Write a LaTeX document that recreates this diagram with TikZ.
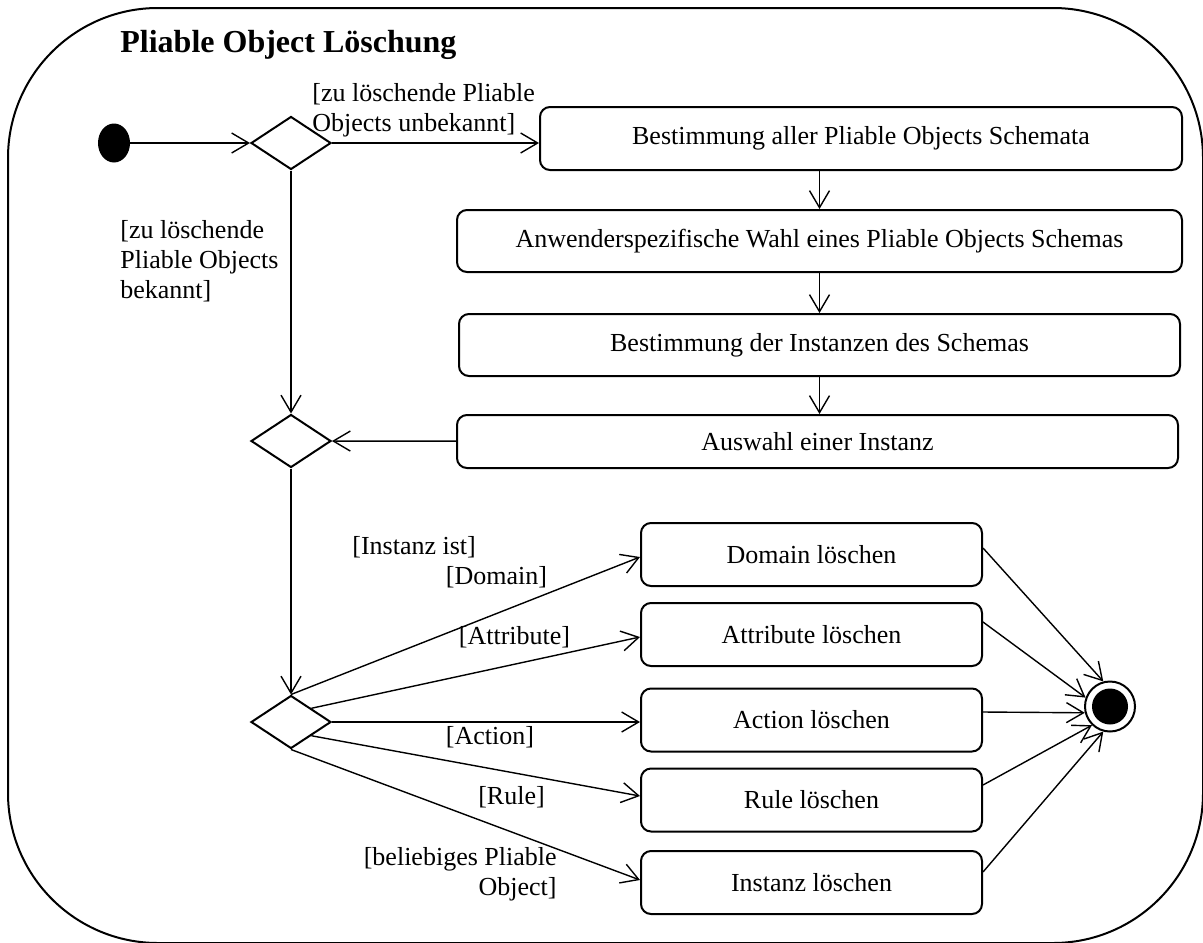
\documentclass[tikz,border=0pt]{standalone}
\usepackage{fontspec}
\setmainfont{Liberation Serif}
\usetikzlibrary{arrows.meta,shapes.geometric,calc}
\tikzset{
  >={Straight Barb[length=8.5pt,width=10pt]},
  flow/.style={->,line width=0.7pt},
  act/.style={draw,line width=1pt,rounded corners=5pt,minimum height=31.5pt,
    inner sep=2pt,align=center,font=\fontsize{13}{15}\selectfont},
  branch/.style={diamond,draw,line width=1pt,aspect=1.5,minimum width=40pt,
    minimum height=26.5pt,inner sep=0pt},
  guard/.style={inner sep=0pt,font=\fontsize{13}{15}\selectfont},
}

\begin{document}
\begin{tikzpicture}[x=0.5pt,y=-0.5pt]
  \useasboundingbox (0,0) rectangle (1203,942);
  % activity frame
  \draw[line width=1pt,rounded corners=75pt] (8,8) rectangle (1203,943);
  \node[anchor=west,inner sep=0pt,font=\fontsize{16}{18}\selectfont\bfseries] (title) at (120,45) {Pliable Object Löschung};

  % initial node and branches
  \node[ellipse,fill,minimum width=16pt,minimum height=19.5pt,inner sep=0pt] (start) at (114,143) {};
  \node[branch] (d1) at (291,143) {};
  \node[branch] (d2) at (291,441) {};
  \node[branch] (d3) at (291,722) {};

  % selection chain
  \node[act,minimum width=321pt] (schemata) at (861,138.5) {Bestimmung aller Pliable Objects Schemata};
  \node[act,minimum width=362.5pt,minimum height=31pt] (wahl) at (819.5,241) {Anwenderspezifische Wahl eines Pliable Objects Schemas};
  \node[act,minimum width=360.5pt,minimum height=31pt] (instanzen) at (819.5,345) {Bestimmung der Instanzen des Schemas};
  \node[act,minimum width=360.5pt,minimum height=26.5pt] (auswahl) at (817.5,441.5) {Auswahl einer Instanz};

  % final node
  \node[circle,draw,line width=1pt,minimum size=25pt,inner sep=0pt] (end) at (1110,706.5) {};
  \fill (end) circle (9pt);

  \draw[flow] (start) -- (d1);
  \draw[flow] (d1.east) -- (d1.east -| schemata.west);
  \draw[flow] (wahl.north |- schemata.south) -- (wahl.north);
  \draw[flow] (wahl) -- (instanzen);
  \draw[flow] (instanzen.south) -- (instanzen.south |- auswahl.north);
  \draw[flow] (auswahl) -- (d2);
  \draw[flow] (d1) -- (d2);
  \draw[flow] (d2) -- (d3);

  \node[guard,anchor=north west,align=left] (gunknown) at (312,83) {[zu löschende Pliable\\Objects unbekannt]};
  \node[guard,anchor=north west,align=left] (gknown) at (120,220) {[zu löschende\\Pliable Objects\\bekannt]};

  % delete actions: name/y/label/branch anchor/in offset/out offset/end angle
  \foreach \n/\y/\w/\anc/\din/\dout/\ang in {dom/554.5/Domain/north/2.5/-6.5/105,
      attr/634.5/Attribute/north east/2.5/-12.5/160,
      action/720/Action/east/2/-8/194,
      rule/800/Rule/south east/-4/-15/226,
      inst/882.5/Instanz/south/-2.5/-10.5/255}
  {
    \node[act,minimum width=170.5pt] (\n) at (811.5,\y) {\w\ löschen};
    \draw[flow] (d3.\anc) -- ($(\n.west)+(0,\din)$);
    \draw[flow] ($(\n.east)+(0,\dout)$) -- (end.\ang);
  }

  \node[guard,anchor=west] (gist) at (352,547) {[Instanz ist]};
  \node[guard] (gdom) at (496.5,577) {[Domain]};
  \node[guard] (gattr) at (514.5,637) {[Attribute]};
  \node[guard] (gaction) at (490,737) {[Action]};
  \node[guard] (grule) at (511.5,797) {[Rule]};
  \node[guard,anchor=east,align=right] (gany) at (557,874) {[beliebiges Pliable\\Object]};
\end{tikzpicture}
\end{document}
